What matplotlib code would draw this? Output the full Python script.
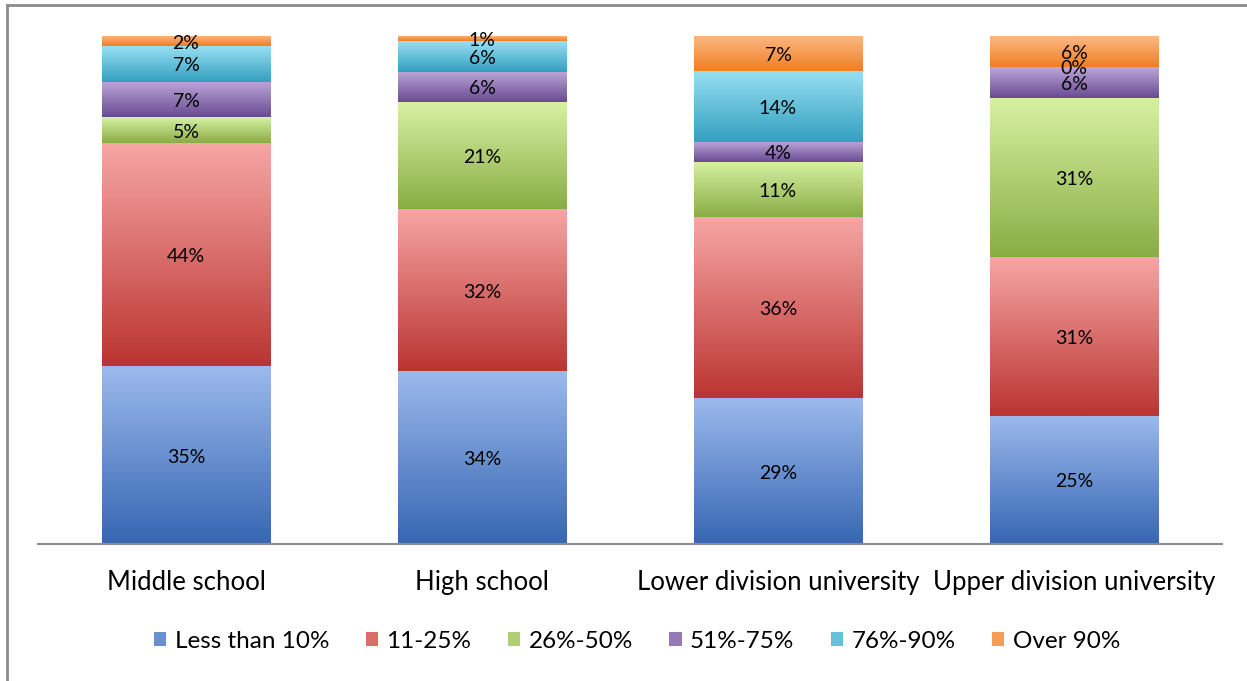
import matplotlib.pyplot as plt
import matplotlib.colors as mcolors
import numpy as np

# Share of classes by education level, one list per band
categories = ['Middle school', 'High school', 'Lower division university', 'Upper division university']
bands = ['Less than 10%', '11-25%', '26%-50%', '51%-75%', '76%-90%', 'Over 90%']
less_10 = [35, 34, 29, 25]
p11_25 = [44, 32, 36, 31]
p26_50 = [5, 21, 11, 31]
p51_75 = [7, 6, 4, 6]
p76_90 = [7, 6, 14, 0]
over_90 = [2, 1, 7, 6]
series = [less_10, p11_25, p26_50, p51_75, p76_90, over_90]

# top / bottom colours of each gradient fill
grads = [('#9bb9ec', '#3767b3'),
         ('#f6a6a4', '#bb3532'),
         ('#d6f1a3', '#8aad45'),
         ('#bba6d8', '#6a4b94'),
         ('#97dff3', '#34a0c0'),
         ('#fcb884', '#ef7f22')]

plt.rcParams['font.family'] = ['Lato', 'DejaVu Sans']

fig = plt.figure(figsize=(12.47, 6.81), dpi=100)
ax = fig.add_axes([38 / 1247, 137 / 681, 1184 / 1247, 508 / 681])

x = np.arange(len(categories))
data = np.array(series, dtype=float)
totals = data.sum(axis=0)
shares = data / totals * 100  # 100% stacked
width = 0.57
bottom = np.zeros(len(categories))

for i, name in enumerate(bands):
    top_c, bot_c = grads[i]
    cmap = mcolors.LinearSegmentedColormap.from_list(name, [bot_c, top_c])
    bars = ax.bar(x, shares[i], width, bottom=bottom, color=mcolors.to_hex(cmap(0.5)),
                  label=name, zorder=2, linewidth=0)
    for j, b in enumerate(bars):
        h = b.get_height()
        if h > 0:
            grad = np.linspace(0, 1, 64).reshape(-1, 1)
            ax.imshow(grad, cmap=cmap, aspect='auto', origin='lower', zorder=3,
                      extent=(b.get_x(), b.get_x() + b.get_width(),
                              b.get_y(), b.get_y() + h))
        ax.text(b.get_x() + b.get_width() / 2, b.get_y() + h / 2 - 0.4,
                f'{int(data[i, j])}%', ha='center', va='center',
                fontsize=14, color='black', zorder=5)
    bottom += shares[i]

ax.set_xlim(-0.5, 3.5)
ax.set_ylim(0, 100)
ax.set_xticks(x)
ax.set_xticklabels(categories, fontsize=18.5)
ax.tick_params(axis='x', length=0, pad=19)
ax.set_yticks([])
for s in ['top', 'left', 'right']:
    ax.spines[s].set_visible(False)
ax.spines['bottom'].set_color('#8c8c8c')
ax.spines['bottom'].set_linewidth(1.5)
ax.spines['bottom'].set_zorder(6)

ax.legend(loc='center', bbox_to_anchor=(0.511, 40 / 681), bbox_transform=fig.transFigure,
          ncol=6, frameon=False, fontsize=17.5, handlelength=0.5, handleheight=0.5,
          handletextpad=0.35, columnspacing=1.5)

# chart frame
fig.add_artist(plt.Line2D([7 / 1247, 1], [1 - 5 / 681, 1 - 5 / 681], color='#8c8c8c', lw=2))
fig.add_artist(plt.Line2D([7 / 1247, 7 / 1247], [0, 1 - 5 / 681], color='#8c8c8c', lw=2))

fig.savefig('out.png', dpi=100)
